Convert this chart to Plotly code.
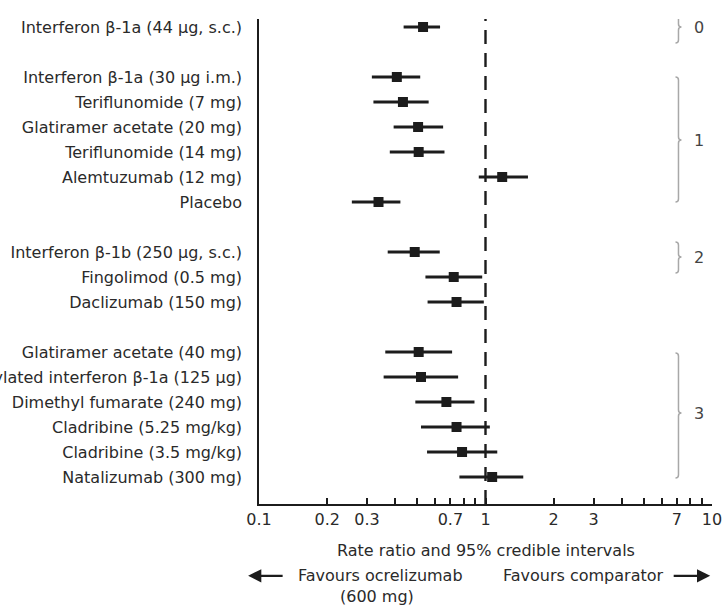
import plotly.graph_objects as go

# ---- data ----
treatments = [
    "Interferon β-1a (44 μg, s.c.)",
    "Interferon β-1a (30 μg i.m.)",
    "Teriflunomide (7 mg)",
    "Glatiramer acetate (20 mg)",
    "Teriflunomide (14 mg)",
    "Alemtuzumab (12 mg)",
    "Placebo",
    "Interferon β-1b (250 μg, s.c.)",
    "Fingolimod (0.5 mg)",
    "Daclizumab (150 mg)",
    "Glatiramer acetate (40 mg)",
    "Pegylated interferon β-1a (125 μg)",
    "Dimethyl fumarate (240 mg)",
    "Cladribine (5.25 mg/kg)",
    "Cladribine (3.5 mg/kg)",
    "Natalizumab (300 mg)",
]
rate_ratio = [0.53, 0.406, 0.432, 0.504, 0.507, 1.185, 0.337, 0.487, 0.724, 0.745,
              0.507, 0.519, 0.672, 0.745, 0.788, 1.07]
ci_low = [0.435, 0.315, 0.32, 0.393, 0.378, 0.934, 0.257, 0.37, 0.543, 0.555,
          0.361, 0.355, 0.49, 0.519, 0.552, 0.767]
ci_high = [0.63, 0.515, 0.561, 0.65, 0.659, 1.54, 0.421, 0.628, 0.967, 0.983,
           0.712, 0.757, 0.894, 1.045, 1.127, 1.468]
row_pos = [0, 2, 3, 4, 5, 6, 7, 9, 10, 11, 13, 14, 15, 16, 17, 18]

group_labels = ["0", "1", "2", "3"]
group_spans = [(-0.56, 0.64), (2.0, 7.0), (8.6, 9.84), (13.04, 18.04)]
group_mid = [0.0, 4.52, 9.2, 15.44]

x_tickvals = [0.1, 0.2, 0.3, 0.4, 0.5, 0.6, 0.7, 0.8, 0.9, 1, 2, 3, 4, 5, 6, 7, 8, 9, 10]
x_ticktext = ["0.1", "0.2", "0.3", "", "", "", "0.7", "", "", "1", "2", "3", "", "", "", "7", "", "", "10"]
null_value = 1
y_range = [19.08, -0.32]

ink = "#1c1c1c"
txt = "#2a2a2a"
font_family = "DejaVu Sans, sans-serif"
fs = 16

fig = go.Figure()
# dashed reference line at rate ratio 1
fig.add_trace(go.Scatter(
    x=[null_value, null_value], y=y_range, mode="lines",
    line=dict(color=ink, width=2.4, dash="14px,9px"),
    showlegend=False, hoverinfo="skip", cliponaxis=False,
))
fig.add_trace(go.Scatter(
    x=rate_ratio, y=row_pos, mode="markers",
    marker=dict(symbol="square", size=10, color=ink, line=dict(width=0)),
    error_x=dict(type="data", symmetric=False,
                 array=[h - m for h, m in zip(ci_high, rate_ratio)],
                 arrayminus=[m - l for m, l in zip(rate_ratio, ci_low)],
                 thickness=3, width=0, color=ink),
    showlegend=False, hoverinfo="skip",
))

shapes = []
# braces for groups
bx = 0.926   # paper x of brace spine
dx = 0.0066
dy = 0.12
for (y0, y1), ym in zip(group_spans, group_mid):
    p = (f"M {bx-dx},{y0} Q {bx},{y0} {bx},{y0+dy} "
         f"L {bx},{ym-dy} Q {bx},{ym} {bx+dx},{ym} "
         f"Q {bx},{ym} {bx},{ym+dy} "
         f"L {bx},{y1-dy} Q {bx},{y1} {bx-dx},{y1}")
    shapes.append(dict(type="path", xref="paper", yref="y", path=p,
                       line=dict(color="#a8a8a8", width=1.5)))

annotations = []
for g, ym in zip(group_labels, group_mid):
    annotations.append(dict(x=0.955, y=ym, xref="paper", yref="y", text=g,
                            showarrow=False, xanchor="left", yanchor="middle",
                            font=dict(size=fs, color="#444", family=font_family)))

annotations += [
    dict(x=0.5, y=-0.095, xref="paper", yref="paper",
         text="Rate ratio and 95% credible intervals", showarrow=False,
         xanchor="center", yanchor="middle", font=dict(size=fs, color=txt, family=font_family)),
    dict(x=0.269, y=-0.148, xref="paper", yref="paper",
         text="Favours ocrelizumab", showarrow=False,
         xanchor="center", yanchor="middle", font=dict(size=fs, color=txt, family=font_family)),
    dict(x=0.26, y=-0.19, xref="paper", yref="paper",
         text="(600 mg)", showarrow=False,
         xanchor="center", yanchor="middle", font=dict(size=fs, color=txt, family=font_family)),
    dict(x=0.717, y=-0.148, xref="paper", yref="paper",
         text="Favours comparator", showarrow=False,
         xanchor="center", yanchor="middle", font=dict(size=fs, color=txt, family=font_family)),
    dict(x=-0.024, y=-0.148, xref="paper", yref="paper", text="",
         showarrow=True, ax=36, ay=0, arrowhead=2, arrowsize=1.2, arrowwidth=2.2,
         arrowcolor=ink, standoff=0),
    dict(x=0.996, y=-0.148, xref="paper", yref="paper", text="",
         showarrow=True, ax=-38, ay=0, arrowhead=2, arrowsize=1.2, arrowwidth=2.2,
         arrowcolor=ink, standoff=0),
]

fig.update_layout(
    width=723, height=605,
    margin=dict(l=259, r=11, t=19, b=101, autoexpand=False),
    paper_bgcolor="white", plot_bgcolor="white",
    font=dict(family=font_family, size=fs, color=txt),
    shapes=shapes, annotations=annotations,
    xaxis=dict(type="log", range=[-1, 1], tickvals=x_tickvals, ticktext=x_ticktext,
               ticks="inside", ticklen=6, tickwidth=1.5, tickcolor=ink,
               showline=True, linecolor=ink, linewidth=1.5, showgrid=False,
               zeroline=False, automargin=False, tickfont=dict(size=fs, color=txt)),
    yaxis=dict(range=y_range, tickvals=row_pos, ticktext=treatments,
               ticks="outside", ticklen=12, tickcolor="rgba(0,0,0,0)",
               showline=True, linecolor=ink, linewidth=1.5, showgrid=False,
               zeroline=False, automargin=False, tickfont=dict(size=fs, color=txt)),
)

fig.write_html("out.html")
